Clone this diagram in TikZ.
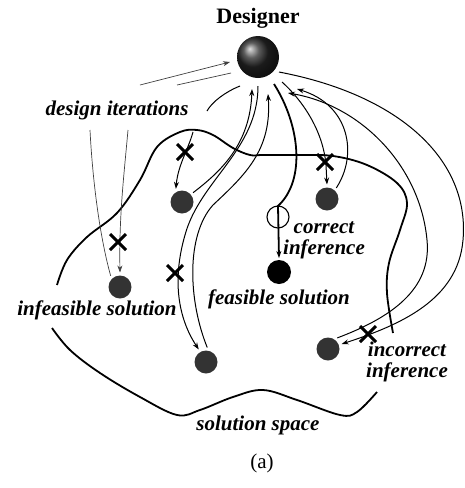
\documentclass[tikz,border=0pt]{standalone}
\usepackage{fontspec}
\setmainfont{Liberation Serif}
\usetikzlibrary{arrows.meta, positioning, shapes.misc}

\begin{document}
\begin{tikzpicture}[
	x=1pt, y=-1pt,
	>={Stealth[length=7pt,width=5pt]},
	every node/.style={font=\bfseries\itshape\fontsize{21}{21}\selectfont},
	space/.style={line width=1.8pt, black},
	iteration/.style={line width=0.7pt, black!75},
	query/.style={line width=1pt, black},
	correct path/.style={line width=1.8pt, black, ->},
	solution/.style={circle, fill=black!80, minimum size=23pt, inner sep=0pt, outer sep=3pt},
	feasible/.style={circle, fill=black, minimum size=24pt, inner sep=0pt, outer sep=2pt},
	reject/.style={draw, cross out, line width=3pt, minimum size=13pt, inner sep=0pt}
	]
	\useasboundingbox (0,0) rectangle (465,488);

	% =====================================================
	% DESIGNER
	% =====================================================
	\node[circle, minimum size=42pt, inner sep=0pt, shade, ball color=black!85] (Designer) at (258,57) {};
	\node[font=\bfseries\fontsize{22}{24}\selectfont] (DesignerLabel) at (258,18) {Designer};

	% ends of the paths at the designer
	\coordinate (InB) at (230,62);
	\coordinate (OutB) at (231,73);
	\coordinate (OutA) at (240,86);
	\coordinate (InA) at (252,89);
	\coordinate (OutC) at (258,86);
	\coordinate (InC) at (268,94);
	\coordinate (OutF) at (274,84);
	\coordinate (OutD) at (282,82);
	\coordinate (InE) at (288,93);
	\coordinate (InD) at (297,89);
	\coordinate (OutE) at (279,72);

	% breaks in the paths
	\coordinate (BreakB1) at (177,85);
	\coordinate (BreakB2) at (128,130);
	\coordinate (BreakB3) at (90,130);
	\coordinate (BreakB4) at (140,85);
	\coordinate (BreakA1) at (207,111);
	\coordinate (BreakA2) at (193,132);

	% =====================================================
	% SOLUTIONS
	% =====================================================
	\node[solution] (SolA) at (182,202) {};
	\node[solution] (SolB) at (120,287) {};
	\node[solution] (SolC) at (206,362) {};
	\node[solution] (SolD) at (327,199) {};
	\node[solution] (SolE) at (328,349) {};
	\node[feasible] (Feasible) at (279,272) {};

	% =====================================================
	% SOLUTION SPACE
	% =====================================================
	\draw[space] plot[smooth, tension=0.6] coordinates {
		(57,285) (67,260) (87,237) (117,213) (140,180) (157,147) (180,132) (197,130)
		(213,135) (233,148) (250,155) (263,155) (297,155) (333,156) (367,165)
		(397,183) (407,203) (400,230) (389,263) (387,293) (393,333)};
	\draw[space] plot[smooth, tension=0.6] coordinates {
		(52,328) (70,350) (100,373) (140,397) (177,415) (200,410) (233,397)
		(263,390) (297,400) (340,415) (357,412) (377,392)};

	% =====================================================
	% DESIGN ITERATIONS
	% =====================================================
	\draw[iteration] (OutB) -- (BreakB1);
	\draw[iteration, ->] (BreakB2) .. controls (124,175) and (119,215) .. (SolB.north);
	\draw[iteration] (SolB.130) .. controls (98,230) and (92,170) .. (BreakB3);
	\draw[iteration, ->] (BreakB4) -- (InB);

	\draw[query] (OutA) .. controls (225,92) and (212,102) .. (BreakA1);
	\draw[query, ->] (BreakA2) .. controls (188,150) and (178,165) .. (SolA.115);
	\draw[query, ->] (SolA.40) .. controls (220,172) and (250,145) .. (InA);

	\draw[query, ->] (OutC) .. controls (258,150) and (200,180) .. (185,235)
		.. controls (172,280) and (178,318) .. (SolC.120);
	\draw[query, ->] (SolC.85) .. controls (188,300) and (186,235) .. (213,205)
		.. controls (245,175) and (272,150) .. (InC);

	\draw[query, ->] (OutD) .. controls (302,100) and (323,130) .. (326,165) -- (SolD.north);
	\draw[query, ->] (SolD.50) .. controls (358,155) and (350,105) .. (InD);

	\draw[query, ->] (OutE) .. controls (400,95) and (470,160) .. (463,240)
		.. controls (458,300) and (400,325) .. (SolE.20);
	\draw[query, ->] (SolE.50) .. controls (390,318) and (432,290) .. (427,240)
		.. controls (420,165) and (360,105) .. (InE);

	% =====================================================
	% CORRECT INFERENCE
	% =====================================================
	\draw[correct path] (OutF) .. controls (300,125) and (306,180) .. (278,206) -- (Feasible.north);
	\node[circle, draw, line width=1.1pt, minimum size=22pt, inner sep=0pt] (Check) at (278,217) {};

	% =====================================================
	% REJECTED STEPS
	% =====================================================
	\node[reject] (RejA) at (185,152) {};
	\node[reject] (RejB) at (118,242) {};
	\node[reject] (RejC) at (175,273) {};
	\node[reject] (RejD) at (325,162) {};
	\node[reject] (RejE) at (368,334) {};

	% =====================================================
	% LABELS
	% =====================================================
	\node (IterLabel) at (117,110) {design iterations};
	\node (InfeasibleLabel) at (97,310) {infeasible solution};
	\node[below=0pt of Feasible] (FeasibleLabel) {feasible solution};
	\node[align=center] (CorrectLabel) at (324,240) {correct\\inference};
	\node[align=center] (WrongLabel) at (407,362) {incorrect\\inference};
	\node (SpaceLabel) at (258,425) {solution space};
	\node[font=\fontsize{21}{24}\selectfont] (Caption) at (262,463) {(a)};

\end{tikzpicture}
\end{document}
